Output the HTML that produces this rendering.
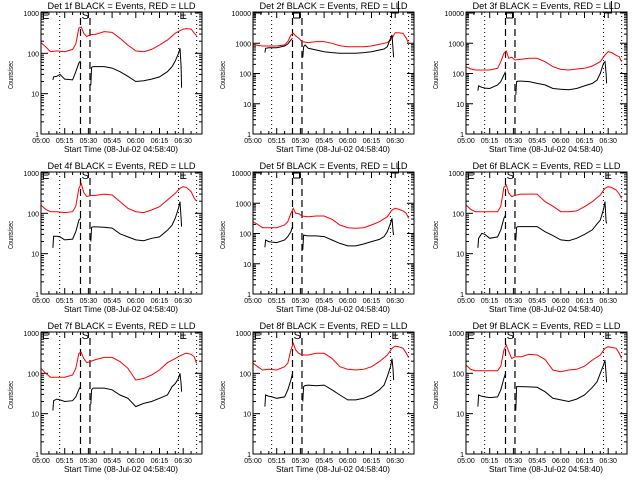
<!DOCTYPE html>
<html><head><meta charset="utf-8"><style>
html,body{margin:0;padding:0;background:#fff;}
svg{display:block;}
text{font-family:"Liberation Sans",sans-serif;fill:#000;}
</style></head>
<body>
<svg id="chart" width="640" height="480" viewBox="0 0 640 480" xmlns="http://www.w3.org/2000/svg"></svg>
<script>
// ---- data ----
const redTimes = [0,3,6,10,15,20,22,24,25.5,27,29,31,35,40,45,50,55,60,65,70,75,80,85,88,90,92,95,97,98.5];
const blackTimes = [7.5,8,10,12,15,20,22,24,25,28,31.5,32,33,35,40,45,50,55,60,65,70,75,80,83,85,87,88,88.7,89];
const detNames = ["1f","2f","3f","4f","5f","6f","7f","8f","9f"];
const yMaxDecades = [3,4,4,3,4,3,3,3,3];
const xTickLabels = ["05:00","05:15","05:30","05:45","06:00","06:15","06:30"];
const xTickMinutes = [0,15,30,45,60,75,90];
const markerDotted = [11.8,87,98.5];
const markerDashed = [25,31];
const red1 = [182,145,110,115,110,125,170,425,450,316,260,290,300,345,330,236,160,115,110,125,160,213,316,365,400,410,400,316,275];
const black1 = [22,26,27,30,23,22,35,58,65,null,16,45,47,47,47,43,35,27,20,21,23,26,35,47,65,100,135,47,14];
const red2 = [945,850,810,810,810,875,1135,1880,2140,1740,1460,1135,1050,1135,1135,1000,830,770,770,770,810,920,1050,1460,2240,2240,2140,1460,1000];
const black2 = [489,679,714,714,714,810,945,1290,1460,null,342,770,875,679,600,527,489,464,464,464,489,527,600,645,770,1460,1880,600,342];
const red3 = [168,141,131,131,131,148,246,464,555,318,342,279,294,318,318,246,168,137,131,141,148,177,246,409,527,500,400,360,246];
const black3 = [27,39,35,33,32,42,54,89,115,null,19.5,54,56,56,54,47,42,32,30,29,32,39,47,61,101,217,246,101,47];
const red4 = [160,125,110,110,104,110,150,420,550,330,260,275,280,300,285,195,133,110,104,121,146,214,313,417,458,440,345,235,200];
const black4 = [14,27,27,26,22,23,35,68,75,null,20,45,46,46,45,43,31,26,22,21,24,26,38,51,76,133,195,75,47];
const red5 = [246,200,156,156,156,191,246,464,679,464,450,379,360,379,379,294,191,156,148,156,191,246,360,600,679,640,555,464,318];
const black5 = [35,61,54,52,50,61,79,115,168,null,29,89,86,83,83,79,61,47,39,39,45,54,64,79,115,217,318,115,89];
const red6 = [162,125,110,110,110,110,150,440,500,320,260,280,300,300,300,195,150,110,110,115,146,195,285,417,458,440,379,300,235];
const black6 = [14,24,32,30,24,26,39,75,91,null,21,45,47,47,47,47,35,28,22,21,24,30,39,55,68,126,195,62,56];
const red7 = [133,100,80,80,80,91,133,313,330,235,184,195,222,249,249,195,133,68,75,91,121,184,235,270,296,313,296,255,177];
const black7 = [12,21,23,22,20,21,26,40,47,null,17,39,43,43,43,39,29,24,15,18,20,24,29,47,56,75,100,56,35];
const red8 = [178,146,121,126,121,146,177,379,555,379,313,285,285,313,313,235,146,126,121,126,146,195,285,417,476,458,417,313,245];
const black8 = [15,29,27,26,24,26,39,68,100,null,20,47,50,51,49,51,39,29,22,22,24,29,39,51,83,146,230,121,68];
const red9 = [161,125,116,116,116,116,150,379,504,345,235,259,259,296,285,222,121,110,121,126,150,214,285,417,458,440,417,313,235];
const black9 = [15,29,27,26,25,26,39,75,100,null,12,47,47,47,46,45,35,24,22,20,23,29,45,62,100,160,214,91,60];
const redSeries = [red1,red2,red3,red4,red5,red6,red7,red8,red9];
const blackSeries = [black1,black2,black3,black4,black5,black6,black7,black8,black9];

const NS = "http://www.w3.org/2000/svg";
const svg = document.getElementById("chart");
const colLeft = [41,253,466];
const boxW = 161, boxTop = 12, boxBot = 134, yTopVal = 13;
const pxPerMin = 1.58;

function mk(tag, attrs, parent){
  const e = document.createElementNS(NS, tag);
  for (const k in attrs) e.setAttribute(k, attrs[k]);
  parent.appendChild(e);
  return e;
}

for (let p = 0; p < 9; p++) {
  const col = p % 3, row = Math.floor(p / 3);
  const L = colLeft[col], R = L + boxW, oy = row * 160;
  const T = oy + boxTop, B = oy + boxBot;
  const dec = yMaxDecades[p];
  const xS = t => L + t * pxPerMin;
  const yS = v => (oy + boxBot) - Math.log10(v) / dec * (boxBot - yTopVal);

  const g = mk("g", {}, svg);
  
  

  const title = mk("text", {x: (L + R) / 2, y: oy + 9, "font-size": 9.5, "text-anchor": "middle", textLength: 148, lengthAdjust: "spacingAndGlyphs"}, g);
  title.textContent = "Det " + detNames[p] + " BLACK = Events, RED = LLD";
  
  

  const ylab = mk("text", {x: 0, y: 0, "font-size": 7, "text-anchor": "middle", transform: "translate(" + (L - 28) + "," + (oy + 75) + ") rotate(-90)", textLength: 28, lengthAdjust: "spacingAndGlyphs"}, g);
  ylab.textContent = "Counts/sec";
  
  

  const xlab = mk("text", {x: L + 80, y: oy + 152, "font-size": 8, "text-anchor": "middle", textLength: 114, lengthAdjust: "spacingAndGlyphs"}, g);
  xlab.textContent = "Start Time (08-Jul-02 04:58:40)";
  
  

  for (let i = 0; i < xTickMinutes.length; i++) {
    const x = xS(xTickMinutes[i]);
    mk("line", {x1: x, x2: x, y1: B, y2: B - 6, stroke: "#000", "stroke-width": 1}, g);
    mk("line", {x1: x, x2: x, y1: T, y2: T + 6, stroke: "#000", "stroke-width": 1}, g);
    const tl = mk("text", {x: x, y: oy + 143, "font-size": 7, "text-anchor": "middle"}, g);
    tl.textContent = xTickLabels[i];
    
    
  }
  for (let m = 5; m < 100; m += 5) {
    if (m % 15 === 0) continue;
    const x = xS(m);
    mk("line", {x1: x, x2: x, y1: B, y2: B - 3, stroke: "#000", "stroke-width": 1}, g);
    mk("line", {x1: x, x2: x, y1: T, y2: T + 3, stroke: "#000", "stroke-width": 1}, g);
  }
  for (let d = 0; d <= dec; d++) {
    const v = Math.pow(10, d);
    const y = yS(v);
    mk("line", {x1: L, x2: L + 7, y1: y, y2: y, stroke: "#000", "stroke-width": 1}, g);
    mk("line", {x1: R, x2: R - 7, y1: y, y2: y, stroke: "#000", "stroke-width": 1}, g);
    const yl = mk("text", {x: L - 2, y: y + 3, "font-size": 7, "text-anchor": "end"}, g);
    yl.textContent = String(v);
    
    
    if (d < dec) {
      for (let k = 2; k <= 9; k++) {
        const yy = yS(v * k);
        mk("line", {x1: L, x2: L + 3, y1: yy, y2: yy, stroke: "#000", "stroke-width": 1}, g);
        mk("line", {x1: R, x2: R - 3, y1: yy, y2: yy, stroke: "#000", "stroke-width": 1}, g);
      }
    }
  }

  markerDotted.forEach(t => {
    const l = mk("line", {x1: xS(t), x2: xS(t), y1: T, y2: B, stroke: "#000", "stroke-width": 1, "stroke-dasharray": "1 3"}, g);
    
    
  });
  markerDashed.forEach(t => {
    const l = mk("line", {x1: xS(t), x2: xS(t), y1: T + 6, y2: B, stroke: "#000", "stroke-width": 1.2, "stroke-dasharray": "7 4"}, g);
    
    
  });

  if (dec === 3) {
    const e1 = mk("text", {x: L + 1, y: T + 7, "font-size": 11}, g);
    e1.textContent = "E";
    
    
    const s1 = mk("text", {x: (xS(markerDashed[0]) + xS(markerDashed[1])) / 2, y: T + 7, "font-size": 11, "text-anchor": "middle"}, g);
    s1.textContent = "S";
    
    
    const e2 = mk("text", {x: xS(markerDotted[1]) + 1, y: T + 7, "font-size": 11}, g);
    e2.textContent = "E";
    
    
  } else {
    mk("path", {d: "M" + (L + 2) + " " + (T + 6) + " V" + (T + 1) + " H" + (L + 9), fill: "none", stroke: "#000"}, g);
    mk("path", {d: "M" + (xS(25) + 1) + " " + (T + 6) + " V" + (T + 1) + " H" + (xS(25) + 7) + " V" + (T + 6) + " H" + (xS(25) + 1), fill: "none", stroke: "#000"}, g);
    mk("path", {d: "M" + (xS(87) + 1) + " " + (T + 6) + " V" + (T + 1) + " H" + (xS(87) + 8) + " V" + (oy + 1), fill: "none", stroke: "#000"}, g);
  }

  const buildPath = (times, vals) => {
    let d = "", pen = false;
    for (let i = 0; i < times.length; i++) {
      const v = vals[i];
      if (v === null || v === undefined) { pen = false; continue; }
      d += (pen ? " L" : " M") + xS(times[i]).toFixed(1) + " " + yS(v).toFixed(1);
      pen = true;
    }
    return d.trim();
  };
  const rp = mk("path", {d: buildPath(redTimes, redSeries[p]), fill: "none", stroke: "#ff0000", "stroke-width": 1}, g);
  
  
  const bp = mk("path", {d: buildPath(blackTimes, blackSeries[p]), fill: "none", stroke: "#000", "stroke-width": 1}, g);
  
  

  const box = mk("rect", {x: L, y: T, width: boxW, height: B - T, fill: "none", stroke: "#000", "stroke-width": 1}, g);
  
  
}
</script>
</body></html>
